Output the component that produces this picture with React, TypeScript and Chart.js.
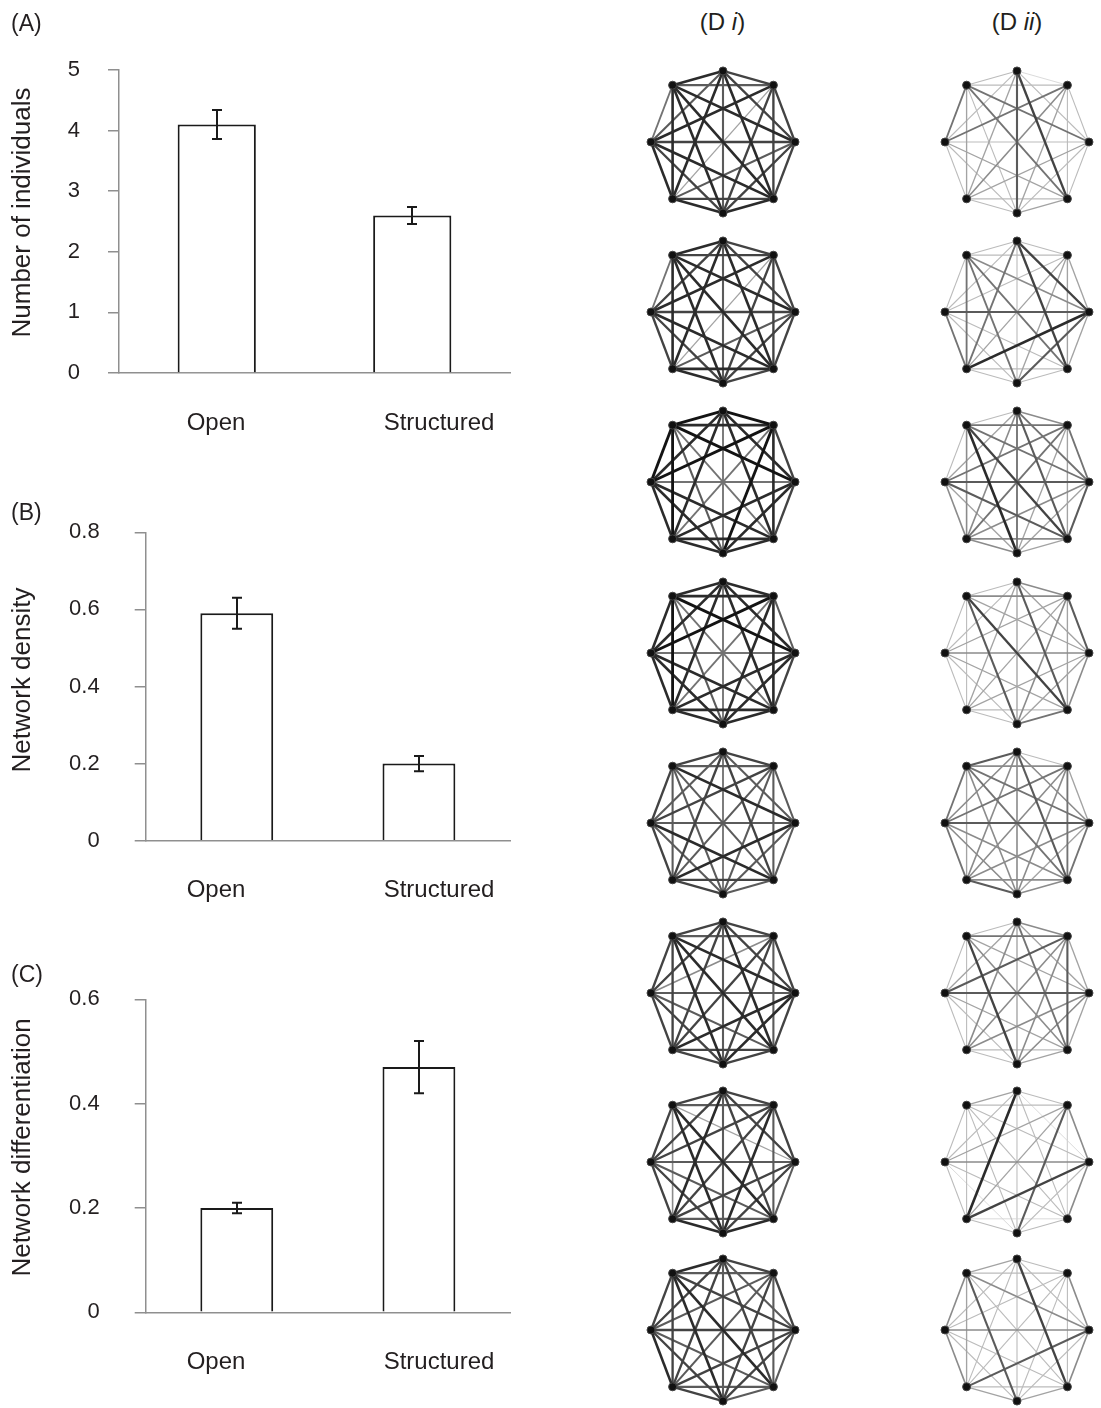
import React, { useEffect, useRef } from "react";
import { Chart, registerables } from "chart.js";
Chart.register(...registerables);

const FONT = "'Liberation Sans', Arial, Helvetica, sans-serif";
const TEXT = "#231f20";
const AXIS = "#8f8f8f";
const EDGE = "#1a1a1a";

// ---- Bar chart data ----
const CATEGORIES = ["Open", "Structured"];
const INDIVIDUALS = [4.1, 2.6];
const INDIVIDUALS_ERR = [0.24, 0.14];
const DENSITY = [0.59, 0.2];
const DENSITY_ERR = [0.04, 0.02];
const DIFFERENTIATION = [0.2, 0.47];
const DIFFERENTIATION_ERR = [0.01, 0.05];
const TICKS_A = { min: 0, max: 5, step: 1 };
const TICKS_B = { min: 0, max: 0.8, step: 0.2 };
const TICKS_C = { min: 0, max: 0.6, step: 0.2 };

// ---- Network data: node layout (circle layout) and edge weights 0-9 ----
const NODE_X = [0, 0.7, 1, 0.7, 0, -0.7, -1, -0.7];
const NODE_Y = [1, 0.8, 0, -0.8, -1, -0.8, 0, 0.8];
// edge order: (0,1)(0,2)...(0,7)(1,2)...(1,7)(2,3)...(6,7)
const DI_1 = [7,7,8,6,8,6,8, 7,7,7,3,8,6, 7,7,6,7,8, 8,7,8,8, 8,7,8, 8,8, 5];
const DI_2 = [7,7,8,6,8,7,8, 7,7,7,3,8,7, 7,7,6,7,8, 7,8,8,8, 8,7,8, 7,8, 5];
const DI_3 = [9,8,8,5,8,8,9, 7,8,9,5,9,8, 7,8,8,5,9, 8,8,8,5, 8,8,6, 8,9, 9];
const DI_4 = [8,8,8,5,8,8,8, 6,8,8,5,9,8, 7,8,8,5,9, 8,8,8,5, 8,8,6, 8,9, 8];
const DI_5 = [7,6,7,5,7,6,7, 6,6,6,6,7,6, 6,6,8,6,8, 6,7,8,6, 7,6,6, 7,6, 7];
const DI_6 = [7,7,8,6,7,7,7, 7,6,7,7,4,6, 7,8,8,6,8, 7,7,6,8, 7,7,8, 7,7, 7];
const DI_7 = [7,7,7,6,8,7,7, 7,6,8,7,7,6, 6,7,7,6,3, 8,6,6,8, 8,7,8, 7,4, 7];
const DI_8 = [7,6,7,6,7,7,8, 7,6,7,6,6,6, 6,7,7,7,7, 6,6,6,8, 7,7,8, 8,7, 7];
const DII_1 = [1,2,7,6,3,2,2, 2,2,3,4,5,2, 2,2,3,2,5, 3,2,3,5, 2,2,2, 2,3, 5];
const DII_2 = [2,7,7,2,5,2,2, 3,3,3,3,2,2, 3,6,8,6,4, 2,2,2,5, 2,2,5, 5,5, 2];
const DII_3 = [4,5,6,5,4,3,2, 5,3,3,5,5,5, 6,3,4,6,5, 3,4,6,7, 4,3,8, 4,4, 2];
const DII_4 = [4,3,6,3,3,2,2, 6,3,4,3,3,4, 4,3,3,4,3, 5,2,3,7, 2,2,6, 2,2, 2];
const DII_5 = [2,4,6,4,4,4,6, 3,5,4,4,5,4, 5,3,4,6,5, 4,4,4,5, 6,4,4, 5,3, 5];
const DII_6 = [4,3,5,3,4,3,2, 3,6,4,4,6,5, 3,4,4,6,3, 3,2,3,4, 2,2,7, 2,2, 2];
const DII_7 = [2,1,2,1,8,2,3, 4,1,6,3,3,2, 4,2,7,4,2, 2,1,2,2, 2,1,2, 2,2, 2];
const DII_8 = [2,2,7,2,2,2,3, 4,2,2,2,2,2, 4,2,6,4,4, 3,2,2,2, 3,2,6, 4,3, 4];
const DI_NETWORKS = [DI_1, DI_2, DI_3, DI_4, DI_5, DI_6, DI_7, DI_8];
const DII_NETWORKS = [DII_1, DII_2, DII_3, DII_4, DII_5, DII_6, DII_7, DII_8];

// layout
const ROW_CENTERS = [142, 311.7, 482, 652.5, 823.3, 993.3, 1161.7, 1330];
const DI_CX = 722.5;
const DII_CX = 1017;
const NET_SIZE = 190;
const RX = 76;
const RY = 75;
const CATEGORY_LABEL_X = [216, 439];

const EDGES: [number, number][] = [];
for (let a = 0; a < 8; a++) for (let b = a + 1; b < 8; b++) EDGES.push([a, b]);

type BarSpec = {
  top: number; height: number; values: number[]; errors: number[];
  ticks: { min: number; max: number; step: number };
  title: string; titleY: number; padTop: number; xHeight: number; yWidth: number; tickPad: number;
};

function BarPanel({ spec }: { spec: BarSpec }) {
  const ref = useRef<HTMLCanvasElement>(null);
  useEffect(() => {
    const decor = {
      id: "decor",
      afterDatasetsDraw(chart: any) {
        const ctx = chart.ctx;
        const meta = chart.getDatasetMeta(0);
        const y = chart.scales.y;
        ctx.save();
        ctx.strokeStyle = EDGE;
        ctx.lineWidth = 2;
        meta.data.forEach((bar: any, i: number) => {
          const v = spec.values[i];
          const e = spec.errors[i];
          const hi = y.getPixelForValue(v + e);
          const lo = y.getPixelForValue(v - e);
          const x = Math.round(bar.x);
          ctx.beginPath();
          ctx.moveTo(x, hi); ctx.lineTo(x, lo);
          ctx.moveTo(x - 5, hi); ctx.lineTo(x + 5, hi);
          ctx.moveTo(x - 5, lo); ctx.lineTo(x + 5, lo);
          ctx.stroke();
        });
        ctx.restore();
      },
      afterDraw(chart: any) {
        const ctx = chart.ctx;
        const area = chart.chartArea;
        ctx.save();
        ctx.fillStyle = TEXT;
        ctx.textAlign = "center";
        ctx.textBaseline = "middle";
        ctx.font = `24px ${FONT}`;
        CATEGORIES.forEach((c, i) => ctx.fillText(c, CATEGORY_LABEL_X[i], area.bottom + 50));
        ctx.translate(23, spec.titleY);
        ctx.rotate(-Math.PI / 2);
        ctx.font = `26px ${FONT}`;
        ctx.fillText(spec.title, 0, 0);
        ctx.restore();
      },
    };
    const chart = new Chart(ref.current as HTMLCanvasElement, {
      type: "bar",
      data: {
        labels: CATEGORIES,
        datasets: [{
          data: spec.values,
          backgroundColor: "#ffffff",
          borderColor: EDGE,
          borderWidth: 2,
          barPercentage: 0.4,
          categoryPercentage: 1,
        }],
      },
      options: {
        responsive: false,
        animation: false,
        layout: { padding: { top: spec.padTop, right: 20, left: 0, bottom: 0 } },
        plugins: { legend: { display: false }, tooltip: { enabled: false } },
        scales: {
          x: {
            grid: { display: false },
            border: { display: true, color: AXIS, width: 1.5 },
            ticks: { display: false },
            afterFit: (s: any) => { s.height = spec.xHeight; },
          },
          y: {
            min: spec.ticks.min,
            max: spec.ticks.max,
            ticks: { stepSize: spec.ticks.step, font: { family: FONT, size: 22 }, color: TEXT, padding: spec.tickPad },
            grid: { drawOnChartArea: false, drawTicks: true, tickLength: 11, color: AXIS, lineWidth: 1.5 },
            border: { display: true, color: AXIS, width: 1.5 },
            afterFit: (s: any) => { s.width = spec.yWidth; },
          },
        },
      } as any,
      plugins: [decor],
    });
    return () => chart.destroy();
  }, [spec]);
  return (
    <canvas ref={ref} width={530} height={spec.height}
      style={{ position: "absolute", left: 0, top: spec.top, display: "block" }} />
  );
}

function edgeGray(w: number) {
  const g = Math.max(15, Math.min(235, Math.round(235 - w * 24)));
  return `rgb(${g},${g},${g})`;
}

function Network({ weights, cx, cy }: { weights: number[]; cx: number; cy: number }) {
  const ref = useRef<HTMLCanvasElement>(null);
  useEffect(() => {
    const datasets: any[] = EDGES.map(([a, b], k) => ({
      data: [{ x: NODE_X[a], y: NODE_Y[a] }, { x: NODE_X[b], y: NODE_Y[b] }],
      showLine: true,
      borderColor: edgeGray(weights[k]),
      borderWidth: 0.6 + weights[k] * 0.25,
      pointRadius: 0,
      order: 20 - weights[k],
      clip: false,
    }));
    datasets.push({
      data: NODE_X.map((x, i) => ({ x, y: NODE_Y[i] })),
      showLine: false,
      pointRadius: 4,
      backgroundColor: "#111111",
      borderColor: "#444444",
      borderWidth: 1,
      order: 0,
      clip: false,
    });
    const hx = NET_SIZE / 2 / RX;
    const hy = NET_SIZE / 2 / RY;
    const chart = new Chart(ref.current as HTMLCanvasElement, {
      type: "scatter",
      data: { datasets },
      options: {
        responsive: false,
        animation: false,
        layout: { padding: 0 },
        plugins: { legend: { display: false }, tooltip: { enabled: false } },
        scales: {
          x: { display: false, min: -hx, max: hx },
          y: { display: false, min: -hy, max: hy },
        },
      } as any,
    });
    return () => chart.destroy();
  }, [weights]);
  return (
    <canvas ref={ref} width={NET_SIZE} height={NET_SIZE}
      style={{ position: "absolute", left: cx - NET_SIZE / 2, top: cy - NET_SIZE / 2, display: "block" }} />
  );
}

const SPEC_A: BarSpec = {
  top: 0, height: 450, values: INDIVIDUALS, errors: INDIVIDUALS_ERR, ticks: TICKS_A,
  title: "Number of individuals", titleY: 212.5, padTop: 70, xHeight: 77, yWidth: 119, tickPad: 28,
};
const SPEC_B: BarSpec = {
  top: 470, height: 440, values: DENSITY, errors: DENSITY_ERR, ticks: TICKS_B,
  title: "Network density", titleY: 210, padTop: 62.3, xHeight: 69.3, yWidth: 145.7, tickPad: 35,
};
const SPEC_C: BarSpec = {
  top: 940, height: 440, values: DIFFERENTIATION, errors: DIFFERENTIATION_ERR, ticks: TICKS_C,
  title: "Network differentiation", titleY: 207.5, padTop: 59.3, xHeight: 67.7, yWidth: 145.7, tickPad: 35,
};

const labelStyle = (left: number, cy: number, size: number): React.CSSProperties => ({
  position: "absolute", left, top: cy - 14, fontFamily: FONT, fontSize: size,
  lineHeight: "28px", color: TEXT, whiteSpace: "nowrap",
});

export default function App() {
  return (
    <div style={{ position: "absolute", left: 0, top: 0, width: 1101, height: 1408, background: "#fff", overflow: "hidden" }}>
      <BarPanel spec={SPEC_A} />
      <BarPanel spec={SPEC_B} />
      <BarPanel spec={SPEC_C} />
      <div style={labelStyle(11, 23, 23)}>(A)</div>
      <div style={labelStyle(11, 512, 23)}>(B)</div>
      <div style={labelStyle(11, 974, 23)}>(C)</div>
      <div style={{ ...labelStyle(0, 22, 24), left: DI_CX - 60, width: 120, textAlign: "center" }}>(D <i>i</i>)</div>
      <div style={{ ...labelStyle(0, 22, 24), left: DII_CX - 60, width: 120, textAlign: "center" }}>(D <i>ii</i>)</div>
      {DI_NETWORKS.map((w, i) => (
        <Network key={"di" + i} weights={w} cx={DI_CX} cy={ROW_CENTERS[i]} />
      ))}
      {DII_NETWORKS.map((w, i) => (
        <Network key={"dii" + i} weights={w} cx={DII_CX} cy={ROW_CENTERS[i]} />
      ))}
    </div>
  );
}
